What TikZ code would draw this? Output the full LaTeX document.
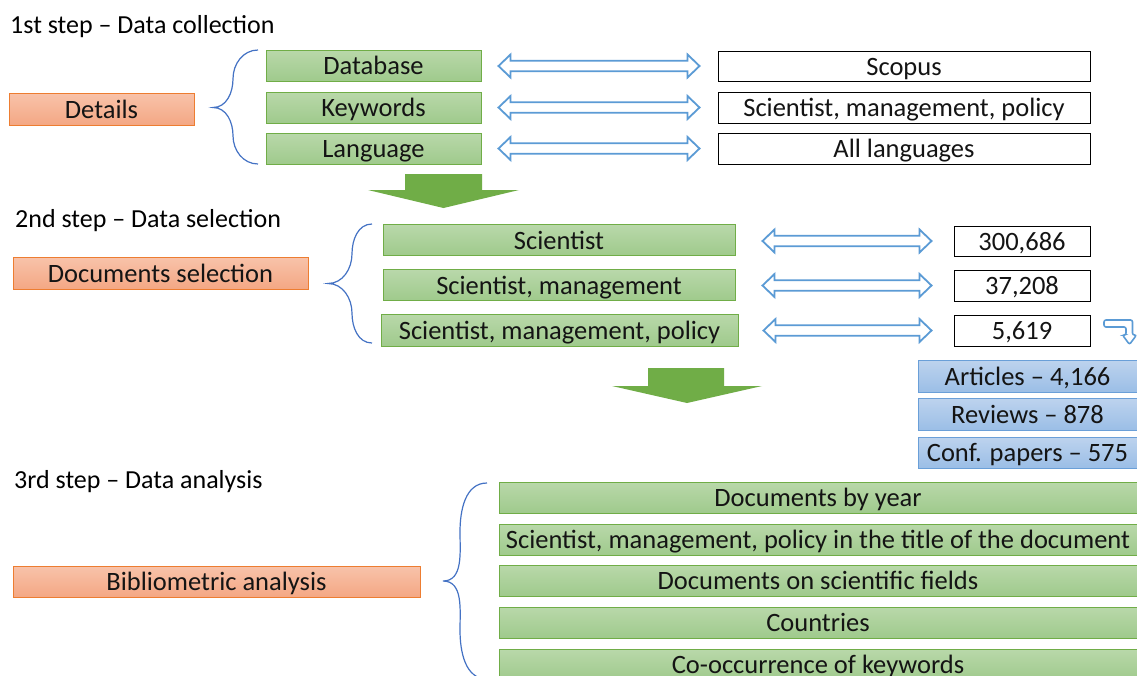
\documentclass[tikz,border=0pt]{standalone}
\usepackage{fontspec}
\setmainfont{Carlito}
\usetikzlibrary{calc}
\definecolor{gtop}{HTML}{B9D8AA}
\definecolor{gbot}{HTML}{9FCA8C}
\definecolor{gborder}{HTML}{70AD47}
\definecolor{otop}{HTML}{F8C3AA}
\definecolor{obot}{HTML}{F4A784}
\definecolor{oborder}{HTML}{ED7D31}
\definecolor{btop}{HTML}{BDD3EE}
\definecolor{bbot}{HTML}{9BBEE6}
\definecolor{bborder}{HTML}{6A9FD8}
\definecolor{arrblue}{HTML}{5B9BD5}
\definecolor{braceblue}{HTML}{4472C4}
\definecolor{txt}{HTML}{141414}
\newcommand\hdbl[4]{%
  \draw[dblarr] let \p1=($(#1.east)+(#3,0)$), \p2=($(#2.west)-(#4,0)$) in
    (\x1,\y2) -- (\x1+12pt,\y2+11.5pt) -- (\x1+12pt,\y2+5.3pt) -- (\x2-12pt,\y2+5.3pt)
    -- (\x2-12pt,\y2+11.5pt) -- (\x2,\y2) -- (\x2-12pt,\y2-11.5pt) -- (\x2-12pt,\y2-5.3pt)
    -- (\x1+12pt,\y2-5.3pt) -- (\x1+12pt,\y2-11.5pt) -- cycle;}
\newcommand\cbrace[6]{%
  \draw[bracestyle] (#1,#4) to[out=180,in=90] (#2,{(#4+#5)/2}) to[out=-90,in=0] (#3,#5)
    to[out=0,in=90] (#2,{(#5+#6)/2}) to[out=-90,in=180] (#1,#6);}
\begin{document}
\begin{tikzpicture}[x=1pt,y=-1pt,
  box/.style={rectangle, inner sep=0pt, font=\fontsize{26.5}{30}\selectfont, text=txt, line width=1pt,
    text height=18.5pt, text depth=0pt},
  gbox/.style={box, draw=gborder, top color=gtop, bottom color=gbot},
  obox/.style={box, draw=oborder, top color=otop, bottom color=obot},
  bbox/.style={box, draw=bborder, top color=btop, bottom color=bbot},
  wbox/.style={box, draw=black, fill=white},
  titletext/.style={inner sep=0pt, anchor=base west, font=\fontsize{26}{30}\selectfont, text=black},
  dblarr/.style={draw=arrblue, fill=white, line width=1.8pt, line join=miter},
  bracestyle/.style={draw=braceblue, line width=1.2pt},
  greenarrow/.style={fill=gborder},
]
\useasboundingbox (0,0) rectangle (1137,675);
\fill[white] (0,0) rectangle (1137,675);

% ---------- step 1
\node[titletext] (t1) at (10,33) {1st step – Data collection};
\node[obox, minimum width=185pt, minimum height=32pt] (details) at (101.5,109) {Details};
\cbrace{258}{233}{213}{50}{107.5}{164}
\node[gbox, minimum width=215pt, minimum height=31pt] (db) at (373.5,65.5) {Database};
\node[gbox, minimum width=215pt, minimum height=31pt] (kw) at (373.5,107.5) {Keywords};
\node[gbox, minimum width=215pt, minimum height=31pt] (lang) at (373.5,148.5) {Language};
\node[wbox, minimum width=372pt, minimum height=30pt] (scopus) at (904,66) {Scopus};
\node[wbox, minimum width=372pt, minimum height=31pt] (smp) at (904,107.5) {Scientist, management, policy};
\node[wbox, minimum width=372pt, minimum height=31pt] (alll) at (904,148.5) {All languages};
\hdbl{db}{scopus}{17}{18}
\hdbl{kw}{smp}{17}{18}
\hdbl{lang}{alll}{17}{18}
\fill[greenarrow] (405,174) -- (482,174) -- (482,190) -- (519,190) -- (443.5,208) -- (368,190) -- (405,190) -- cycle;

% ---------- step 2
\node[titletext] (t2) at (15,227) {2nd step – Data selection};
\node[obox, minimum width=295pt, minimum height=32pt] (docsel) at (160.5,273) {Documents selection};
\cbrace{372}{352}{328}{224}{283.5}{343}
\node[gbox, minimum width=352pt, minimum height=31pt] (s1) at (559,240) {Scientist};
\node[gbox, minimum width=352pt, minimum height=31pt] (s2) at (559,285) {Scientist, management};
\node[gbox, minimum width=357pt, minimum height=32pt] (s3) at (559.5,330) {Scientist, management, policy};
\node[wbox, minimum width=136pt, minimum height=30pt] (n1) at (1022,241) {300,686};
\node[wbox, minimum width=136pt, minimum height=31pt] (n2) at (1022,285.5) {37,208};
\node[wbox, minimum width=136pt, minimum height=31pt] (n3) at (1022,330.5) {5,619};
\hdbl{s1}{n1}{27}{22}
\hdbl{s2}{n2}{27}{22}
\hdbl{s3}{n3}{25}{22}
\draw[dblarr, line width=1.6pt, rounded corners=2pt] (1104,320) -- (1132.5,320) -- (1132.5,335) -- (1136.5,335)
  -- (1129.5,344.5) -- (1122.5,335) -- (1126,335) -- (1126,327) -- (1104,327) -- cycle;
\node[bbox, minimum width=219pt, minimum height=32pt] (art) at (1027.5,376) {Articles – 4,166};
\node[bbox, minimum width=219pt, minimum height=32pt] (rev) at (1027.5,414) {Reviews – 878};
\node[bbox, minimum width=219pt, minimum height=31pt] (conf) at (1027.5,452.5) {Conf. papers – 575};
\fill[greenarrow] (648,368) -- (724,368) -- (724,386) -- (762,386) -- (687,403) -- (612,386) -- (648,386) -- cycle;

% ---------- step 3
\node[titletext] (t3) at (14,488) {3rd step – Data analysis};
\node[obox, minimum width=407pt, minimum height=31pt] (biblio) at (216.5,581.5) {Bibliometric analysis};
\cbrace{487}{460}{443}{483}{581}{679}
\node[gbox, minimum width=638pt, minimum height=31pt] (a1) at (818,497.5) {Documents by year};
\node[gbox, minimum width=638pt, minimum height=31pt] (a2) at (818,539.5) {Scientist, management, policy in the title of the document};
\node[gbox, minimum width=638pt, minimum height=31pt] (a3) at (818,580.5) {Documents on scientific fields};
\node[gbox, minimum width=638pt, minimum height=31pt] (a4) at (818,622.5) {Countries};
\node[gbox, minimum width=638pt, minimum height=31pt] (a5) at (818,664.5) {Co-occurrence of keywords};
\end{tikzpicture}
\end{document}
